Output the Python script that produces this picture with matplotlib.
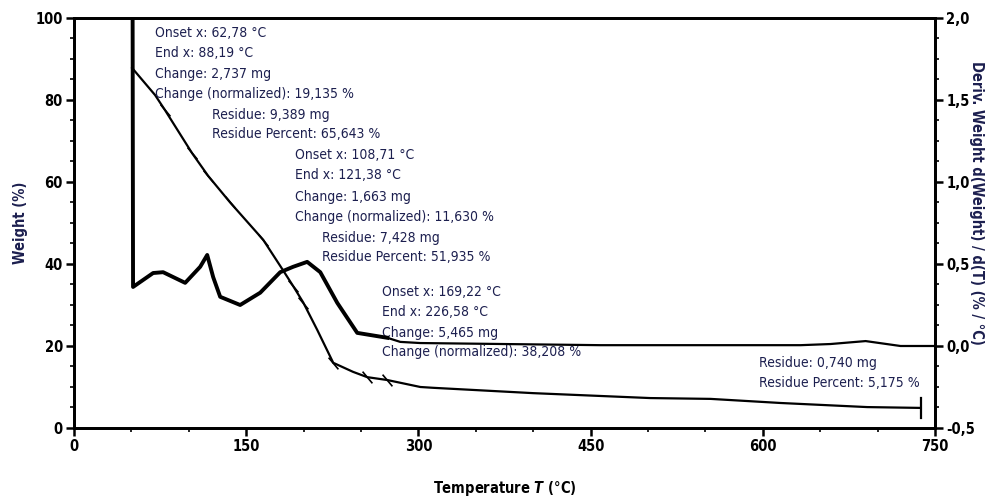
import numpy as np
import matplotlib
matplotlib.use("Agg")
from matplotlib import pyplot as plt
from matplotlib.ticker import MultipleLocator, FuncFormatter

# TGA weight curve (temperature in degC, weight in %)
tga_T = [50.6, 70.6, 79.3, 102.9, 116.8, 136.0, 164.8, 182.0, 190.9, 199.7,
         211.9, 225.8, 243.0, 255.4, 272.9, 301.7, 313.0, 400.0, 502.0, 554.5,
         615.5, 691.0, 737.6]
tga_W = [87.8, 81.2, 77.5, 67.0, 61.5, 55.0, 45.9, 38.5, 34.6, 30.6,
         23.9, 15.9, 13.7, 12.4, 11.7, 10.0, 9.8, 8.5, 7.3, 7.1,
         6.1, 5.1, 4.9]
tga_marks = [2, 3, 4, 5, 6, 8, 9, 11, 13, 14]

# DTG curve (deriv. weight, % / degC)
dtg_T = [51.0, 51.4, 68.9, 77.6, 96.8, 109.9, 116.0, 121.2, 127.3, 144.7,
         162.2, 179.6, 190.9, 203.1, 214.5, 229.3, 246.7, 272.9, 284.2, 301.7,
         458.6, 633.0, 659.0, 689.6, 720.0, 749.0]
dtg_D = [2.10, 0.36, 0.445, 0.45, 0.385, 0.483, 0.555, 0.42, 0.30, 0.25,
         0.325, 0.45, 0.483, 0.513, 0.45, 0.263, 0.08, 0.05, 0.025, 0.018,
         0.005, 0.005, 0.012, 0.03, 0.0, 0.0]

notes = [
    ("Onset x: 62,78 °C", 70.6, 96.3),
    ("End x: 88,19 °C", 70.6, 91.5),
    ("Change: 2,737 mg", 70.6, 86.4),
    ("Change (normalized): 19,135 %", 70.6, 81.5),
    ("Residue: 9,389 mg", 120.3, 76.4),
    ("Residue Percent: 65,643 %", 120.3, 71.7),
    ("Onset x: 108,71 °C", 192.7, 66.6),
    ("End x: 121,38 °C", 192.7, 61.7),
    ("Change: 1,663 mg", 192.7, 56.4),
    ("Change (normalized): 11,630 %", 192.7, 51.5),
    ("Residue: 7,428 mg", 216.2, 46.4),
    ("Residue Percent: 51,935 %", 216.2, 41.7),
    ("Onset x: 169,22 °C", 268.5, 33.2),
    ("End x: 226,58 °C", 268.5, 28.3),
    ("Change: 5,465 mg", 268.5, 23.2),
    ("Change (normalized): 38,208 %", 268.5, 18.5),
    ("Residue: 0,740 mg", 596.3, 15.9),
    ("Residue Percent: 5,175 %", 596.3, 11.0),
]

plt.rcParams['font.family'] = ["DejaVu Sans"]
plt.rcParams['font.stretch'] = "condensed"
navy = "#1c1f4f"

fig = plt.figure(figsize=(10.02, 5.04), dpi=100)
ax = fig.add_axes([0.0739, 0.1508, 0.8592, 0.8135])
ax2 = ax.twinx()

ax.plot(tga_T, tga_W, color="black", lw=1.6, marker=(2, 0, 40), ms=11,
        mew=1.2, markevery=tga_marks)
ax.plot([tga_T[-1]] * 2, [tga_W[-1] - 2.5, tga_W[-1] + 2.5], color="black", lw=1.6)

ax2.plot(dtg_T[:18], dtg_D[:18], color="black", lw=2.8)
ax2.plot(dtg_T[17:], dtg_D[17:], color="black", lw=1.6)

ax.set_xlim(0, 750)
ax.set_ylim(0, 100)
ax2.set_ylim(-0.5, 2.0)

ax.xaxis.set_major_locator(MultipleLocator(150))
ax.xaxis.set_minor_locator(MultipleLocator(50))
ax.yaxis.set_major_locator(MultipleLocator(20))
ax.yaxis.set_minor_locator(MultipleLocator(5))
ax2.yaxis.set_major_locator(MultipleLocator(0.5))
ax2.yaxis.set_minor_locator(MultipleLocator(0.125))
ax2.yaxis.set_major_formatter(FuncFormatter(lambda v, p: f"{v:.1f}".replace(".", ",")))

for a in (ax, ax2):
    for s in a.spines.values():
        s.set_linewidth(2)
    a.tick_params(which="major", length=6, width=1.8, labelsize=10.5, pad=2)
    a.tick_params(which="minor", length=3, width=1.2)
    for lab in a.get_xticklabels() + a.get_yticklabels():
        lab.set_fontweight("bold")

for txt, x, y in notes:
    ax.text(x, y, txt, fontsize=10, color=navy, va="center", ha="left")

ax.set_ylabel("Weight (%)", fontsize=10.5, fontweight="bold", color=navy)
ax.yaxis.set_label_coords(-0.053, 0.5)
ax2.set_ylabel("Deriv. Weight d(Weight) / d(T) (% / °C)", fontsize=10.5, fontweight="bold",
               color=navy, rotation=270)
ax2.yaxis.set_label_coords(1.057, 0.55)
ax.set_xlabel("Temperature $\\mathbfit{T}$ (°C)", fontsize=10.5, fontweight="bold", labelpad=18)

fig.savefig("out.png", dpi=100)
